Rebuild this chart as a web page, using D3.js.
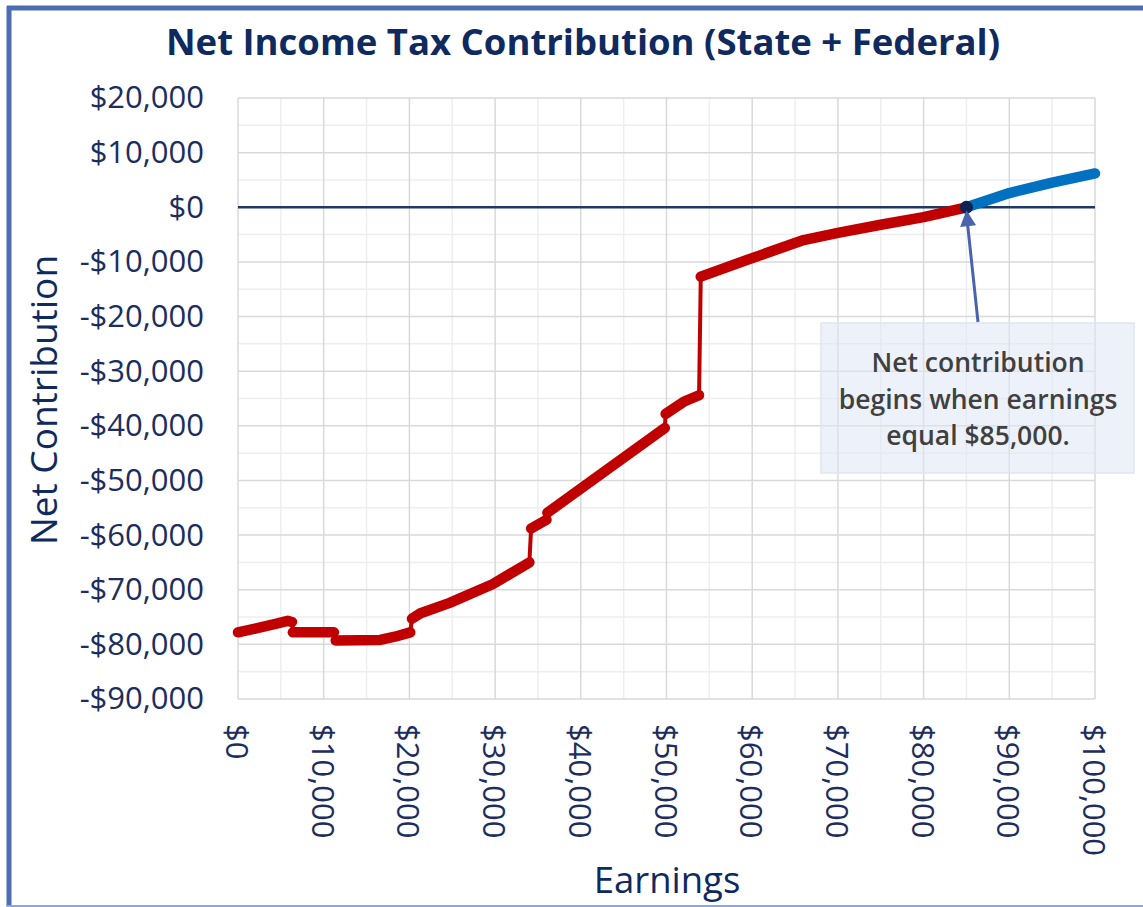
<!DOCTYPE html>
<html><head><meta charset="utf-8">
<script src="https://cdn.jsdelivr.net/npm/d3@7/dist/d3.min.js"></script>
<style>html,body{margin:0;padding:0;background:#fff;}svg{display:block;font-family:"Open Sans",sans-serif;}</style>
</head><body>
<svg id="chart" width="1143" height="907"></svg>
<script>
// ---- data ----
const title = "Net Income Tax Contribution (State + Federal)";
const xTitle = "Earnings";
const yTitle = "Net Contribution";
const xTicks = [0, 10000, 20000, 30000, 40000, 50000, 60000, 70000, 80000, 90000, 100000];
const yTicks = [20000, 10000, 0, -10000, -20000, -30000, -40000, -50000, -60000, -70000, -80000, -90000];
const redEarnings = [0, 2000, 4500, 5800, 6300, 6400, 11200, 11400, 16600, 18300, 20100, 20300, 21300, 24700, 29700, 34000, 34200, 36000, 36100, 49800, 49900, 52000, 53800, 54000, 60000, 66000, 70000, 75000, 80000, 85000];
const redValues = [-77800, -77100, -76200, -75700, -75900, -77800, -77800, -79300, -79200, -78600, -77800, -75300, -74300, -72400, -69000, -65000, -58800, -57200, -55900, -40400, -37800, -35600, -34400, -12700, -9300, -6000, -4700, -3200, -1800, 0];
const blueEarnings = [85000, 90000, 95000, 100000];
const blueValues = [0, 2600, 4500, 6200];
const breakEven = [85000, 0];
const noteLines = ["Net contribution", "begins when earnings", "equal $85,000."];

// ---- layout ----
const svg = d3.select("#chart");
const x = d3.scaleLinear().domain([0, 100000]).range([238, 1095]);
const y = d3.scaleLinear().domain([-90000, 20000]).range([699, 98]);
const fmt = v => (v < 0 ? "-$" : "$") + d3.format(",")(Math.abs(v));

// frame
svg.append("line").attr("x1", 9).attr("x2", 9).attr("y1", 6).attr("y2", 907).attr("stroke", "#4d6cb4").attr("stroke-width", 5);
svg.append("line").attr("x1", 7).attr("x2", 1143).attr("y1", 8).attr("y2", 8).attr("stroke", "#4d6cb4").attr("stroke-width", 5);
svg.append("line").attr("x1", 7).attr("x2", 1143).attr("y1", 906).attr("y2", 906).attr("stroke", "#8fa6da").attr("stroke-width", 2);

// grid: minor
const g = svg.append("g");
const minorX = d3.range(5000, 100000, 10000);
const minorY = d3.range(-85000, 20000, 10000);
g.selectAll(".mx").data(minorX).join("line").attr("x1", d => x(d)).attr("x2", d => x(d)).attr("y1", y(20000)).attr("y2", y(-90000)).attr("stroke", "#eeeeee").attr("stroke-width", 1.5);
g.selectAll(".my").data(minorY).join("line").attr("y1", d => y(d)).attr("y2", d => y(d)).attr("x1", x(0)).attr("x2", x(100000)).attr("stroke", "#eeeeee").attr("stroke-width", 1.5);
// grid: major
g.selectAll(".Mx").data(xTicks).join("line").attr("x1", d => x(d)).attr("x2", d => x(d)).attr("y1", y(20000)).attr("y2", y(-90000)).attr("stroke", "#d9d9d9").attr("stroke-width", 1.5);
g.selectAll(".My").data(yTicks).join("line").attr("y1", d => y(d)).attr("y2", d => y(d)).attr("x1", x(0)).attr("x2", x(100000)).attr("stroke", "#d9d9d9").attr("stroke-width", 1.5);

// zero line
svg.append("line").attr("x1", x(0)).attr("x2", x(100000)).attr("y1", y(0)).attr("y2", y(0)).attr("stroke", "#1f3864").attr("stroke-width", 2.5);

// y axis labels
const yAxis = d3.axisLeft(y).tickValues(yTicks).tickFormat(fmt).tickSize(0).tickPadding(34);
const ya = svg.append("g").attr("transform", `translate(${x(0)},0)`).call(yAxis);
ya.select(".domain").remove();
ya.selectAll("text").attr("font-size", 31).attr("fill", "#1c2d5e").attr("font-family", "Open Sans");

// x axis labels (rotated)
const xa = svg.append("g");
xa.selectAll("text").data(xTicks).join("text")
  .attr("transform", d => `translate(${x(d)},724) rotate(90)`)
  .attr("dominant-baseline", "central")
  .attr("font-size", 31).attr("fill", "#1c2d5e")
  .text(fmt);

// titles
svg.append("text").attr("x", 583).attr("y", 55).attr("text-anchor", "middle").attr("font-size", 36.5).attr("font-weight", 700).attr("fill", "#0f2a5e").text(title);
svg.append("text").attr("x", 667).attr("y", 893).attr("text-anchor", "middle").attr("font-size", 36.5).attr("fill", "#0f2a5e").text(xTitle);
svg.append("text").attr("transform", "translate(57,400) rotate(-90)").attr("text-anchor", "middle").attr("font-size", 37).attr("fill", "#0f2a5e").text(yTitle);

// series
const line = d3.line().x(d => x(d[0])).y(d => y(d[1]));
function drawSeries(es, vs, color) {
  const pts = es.map((e, i) => [e, vs[i]]);
  svg.append("path").attr("d", line(pts)).attr("fill", "none").attr("stroke", color).attr("stroke-width", 4).attr("stroke-linejoin", "round");
  // thick marker runs: split where earnings jump vertically
  let seg = [pts[0]];
  const segs = [];
  for (let i = 1; i < pts.length; i++) {
    if (pts[i][0] - pts[i - 1][0] <= 200) { segs.push(seg); seg = [pts[i]]; }
    else seg.push(pts[i]);
  }
  segs.push(seg);
  segs.forEach(s => {
    svg.append("path").attr("d", s.length > 1 ? line(s) : `M${x(s[0][0])},${y(s[0][1])}l0,0`)
      .attr("fill", "none").attr("stroke", color).attr("stroke-width", 10.5)
      .attr("stroke-linecap", "round").attr("stroke-linejoin", "round");
  });
}
drawSeries(redEarnings, redValues, "#c00000");
drawSeries(blueEarnings, blueValues, "#0070c0");
svg.append("circle").attr("cx", x(breakEven[0])).attr("cy", y(breakEven[1])).attr("r", 6.5).attr("fill", "#0d2352");

// annotation box
svg.append("rect").attr("x", 821).attr("y", 323).attr("width", 313).attr("height", 150)
  .attr("fill", "#dfe8f5").attr("fill-opacity", 0.55).attr("stroke", "#dfe5ef").attr("stroke-width", 1.5);
svg.append("g").selectAll("text").data(noteLines).join("text")
  .attr("x", 978).attr("y", (d, i) => 372 + i * 36.5)
  .attr("text-anchor", "middle").attr("font-size", 26.5).attr("font-weight", 600).attr("fill", "#404040")
  .text(d => d);

// arrow
const ax0 = 978, ay0 = 322, ax1 = x(breakEven[0]), ay1 = y(breakEven[1]) + 3;
svg.append("line").attr("x1", ax0).attr("y1", ay0).attr("x2", ax1 + 0.1 * (ax0 - ax1)).attr("y2", ay1 + 14).attr("stroke", "#4a63ae").attr("stroke-width", 3);
const ang = Math.atan2(ay1 - ay0, ax1 - ax0);
const hl = 16, hw = 8;
const bx = ax1 - hl * Math.cos(ang), by = ay1 - hl * Math.sin(ang);
svg.append("path").attr("d", `M${ax1},${ay1} L${bx + hw * Math.sin(ang)},${by - hw * Math.cos(ang)} L${bx - hw * Math.sin(ang)},${by + hw * Math.cos(ang)} Z`).attr("fill", "#4a63ae");
</script>
</body></html>
